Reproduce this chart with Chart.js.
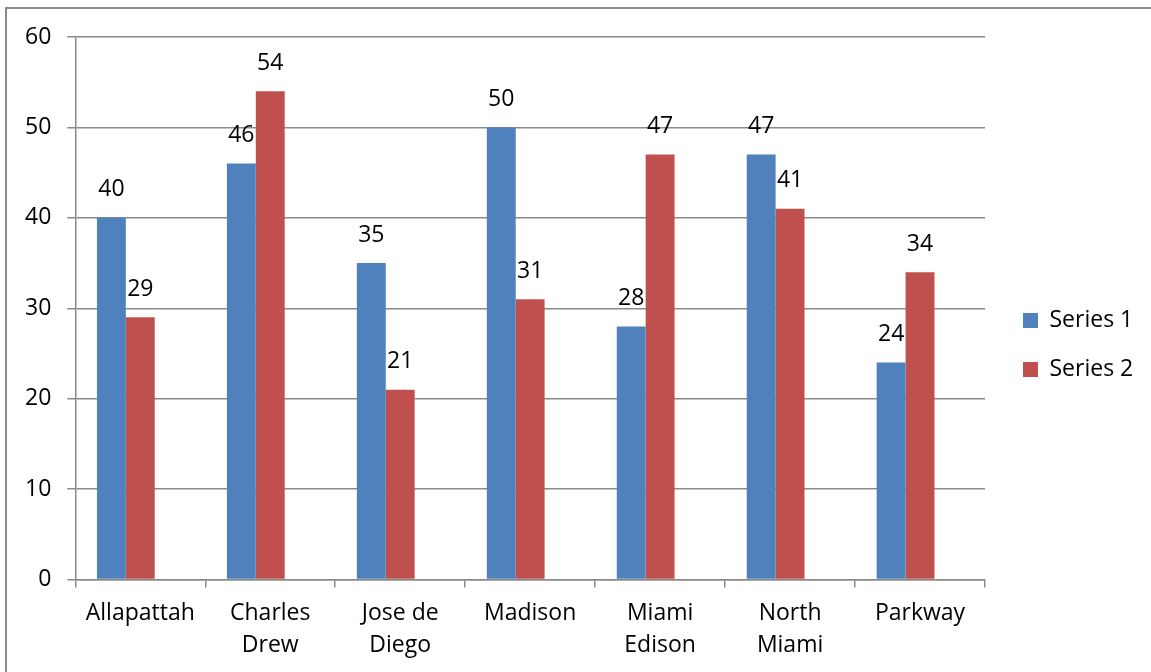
<!DOCTYPE html>
<html>
<head>
<meta charset="utf-8">
<script src="https://cdn.jsdelivr.net/npm/chart.js@4.4.1/dist/chart.umd.min.js"></script>
<style>
  html, body { margin: 0; padding: 0; background: #fff; }
  #wrap { width: 1151px; height: 672px; position: relative; }
</style>
</head>
<body>
<div id="wrap"><canvas id="canvas1" width="1151" height="672"></canvas></div>
<script>
// schools along the x axis
var schools = [
    ["Allapattah"],
    ["Charles", "Drew"],
    ["Jose de", "Diego"],
    ["Madison"],
    ["Miami", "Edison"],
    ["North", "Miami"],
    ["Parkway"]
];
var series1 = [40, 46, 35, 50, 28, 47, 24];
var series2 = [29, 54, 21, 31, 47, 41, 34];
// Excel kept an empty third series, which is why the bars sit left of centre
var series3 = [null, null, null, null, null, null, null];
var yTicks = [0, 10, 20, 30, 40, 50, 60];

var font = "'Open Sans', 'Noto Sans', sans-serif";

// gray frame round the picture
var framePlugin = {
    id: 'frame',
    beforeDraw: function(chart) {
        var ctx = chart.ctx;
        ctx.save();
        ctx.strokeStyle = "#8a8a8a";
        ctx.lineWidth = 2;
        ctx.beginPath();
        ctx.moveTo(6, 700);
        ctx.lineTo(6, 8);
        ctx.lineTo(1200, 8);
        ctx.stroke();
        ctx.restore();
    }
};

// push the legend a bit further right, as in the original
var legendShift = {
    id: 'legendShift',
    afterLayout: function(chart) {
        if (chart.legend) {
            chart.legend.left += 12;
            chart.legend.right += 12;
        }
    }
};

// value labels above the bars
var valuePlugin = {
    id: 'values',
    afterDatasetsDraw: function(chart) {
        var ctx = chart.ctx;
        ctx.save();
        ctx.fillStyle = "#000";
        ctx.font = "23px " + font;
        ctx.textAlign = "center";
        ctx.textBaseline = "middle";
        chart.data.datasets.forEach(function(ds, i) {
            var meta = chart.getDatasetMeta(i);
            meta.data.forEach(function(bar, j) {
                if (ds.data[j] == null) return;
                ctx.fillText(ds.data[j], bar.x, bar.y - 28);
            });
        });
        ctx.restore();
    }
};

new Chart(document.getElementById("canvas1"), {
    type: 'bar',
    data: {
        labels: schools,
        datasets: [{
            label: "Series 1",
            data: series1,
            backgroundColor: "#4F81BD"
        }, {
            label: "Series 2",
            data: series2,
            backgroundColor: "#C0504D"
        }, {
            label: "Series 3",
            data: series3,
            backgroundColor: "#9BBB59"
        }]
    },
    options: {
        responsive: false,
        animation: false,
        categoryPercentage: 0.667,
        barPercentage: 1.0,
        layout: { padding: { left: 9, top: 18, right: 0, bottom: 0 } },
        plugins: {
            tooltip: { enabled: false },
            legend: {
                position: 'right',
                labels: {
                    font: { family: font, size: 23 },
                    color: "#000",
                    boxWidth: 15,
                    boxHeight: 15,
                    padding: 26,
                    filter: function(item) { return item.datasetIndex < 2; }
                }
            }
        },
        scales: {
            x: {
                afterFit: function(axis) { axis.paddingRight = 166; },
                grid: {
                    drawOnChartArea: false,
                    drawTicks: true,
                    tickLength: 8,
                    color: "#8a8a8a",
                    lineWidth: 1.5
                },
                border: { color: "#8a8a8a", width: 1.5 },
                ticks: {
                    font: { family: font, size: 23, lineHeight: 1.4 },
                    color: "#000",
                    padding: 10,
                    maxRotation: 0
                }
            },
            y: {
                min: 0,
                max: 60,
                afterFit: function(axis) { axis.paddingTop = 37; },
                afterBuildTicks: function(axis) {
                    axis.ticks = yTicks.map(function(v) { return { value: v }; });
                },
                grid: {
                    color: "#8a8a8a",
                    lineWidth: 1.5,
                    tickLength: 8
                },
                border: { color: "#8a8a8a", width: 1.5 },
                ticks: {
                    font: { family: font, size: 23 },
                    color: "#000",
                    padding: 16
                }
            }
        }
    },
    plugins: [framePlugin, legendShift, valuePlugin]
});
</script>
</body>
</html>
